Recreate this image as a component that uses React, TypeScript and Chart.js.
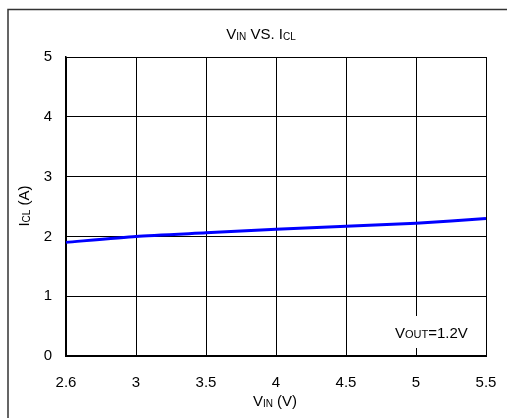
import React, { useEffect, useRef } from "react";
import { Chart, registerables } from "chart.js";

Chart.register(...registerables);

const xLabels = ["2.6", "3", "3.5", "4", "4.5", "5", "5.5"];
const iclValues = [1.9, 2.0, 2.06, 2.12, 2.17, 2.22, 2.3];
const yMin = 0;
const yMax = 5;

const FONT = "'Liberation Sans', Arial, sans-serif";

type Part = [string, number, number];

function partsWidth(ctx: CanvasRenderingContext2D, parts: Part[]) {
  let w = 0;
  for (const [t, s] of parts) {
    ctx.font = `${s}px ${FONT}`;
    w += ctx.measureText(t).width;
  }
  return w;
}

function drawParts(
  ctx: CanvasRenderingContext2D,
  parts: Part[],
  x: number,
  y: number,
  align: "left" | "center"
) {
  const w = partsWidth(ctx, parts);
  let cx = align === "center" ? x - w / 2 : x;
  ctx.textAlign = "left";
  ctx.textBaseline = "alphabetic";
  ctx.fillStyle = "#000";
  for (const [t, s, dy] of parts) {
    ctx.font = `${s}px ${FONT}`;
    ctx.fillText(t, cx, y + dy);
    cx += ctx.measureText(t).width;
  }
}

const decorPlugin = {
  id: "decor",
  afterDraw(chart: any) {
    const ctx = chart.ctx as CanvasRenderingContext2D;
    ctx.save();
    // outer frame
    ctx.strokeStyle = "#333";
    ctx.lineWidth = 1.5;
    ctx.beginPath();
    ctx.moveTo(8, 420);
    ctx.lineTo(8, 9.5);
    ctx.lineTo(510, 9.5);
    ctx.stroke();
    // title
    drawParts(ctx, [["V", 15, 0], ["IN", 10, 1], [" VS. I", 15, 0], ["CL", 10, 1]], 261, 39, "center");
    // x axis title
    drawParts(ctx, [["V", 15, 0], ["IN", 10, 1], [" (V)", 15, 0]], 275, 406, "center");
    // y axis title
    ctx.save();
    ctx.translate(29, 206);
    ctx.rotate(-Math.PI / 2);
    drawParts(ctx, [["I", 15, 0], ["CL", 10, 1], [" (A)", 15, 0]], 0, 0, "center");
    ctx.restore();
    // annotation
    const area = chart.chartArea;
    ctx.fillStyle = "#fff";
    ctx.fillRect(390, 316, 80, area.bottom - 8 - 316);
    drawParts(ctx, [["V", 15, 0], ["OUT", 11, 0], ["=1.2V", 15, 0]], 395, 338, "left");
    ctx.restore();
  },
};

export default function App() {
  const ref = useRef<HTMLCanvasElement>(null);
  useEffect(() => {
    if (!ref.current) return;
    const chart = new Chart(ref.current, {
      type: "line",
      data: {
        labels: xLabels,
        datasets: [
          {
            data: iclValues,
            borderColor: "#0000ff",
            borderWidth: 3,
            pointRadius: 0,
            tension: 0.2,
            fill: false,
          },
        ],
      },
      options: {
        responsive: false,
        animation: false,
        devicePixelRatio: 1,
        layout: { padding: { left: 0, right: 21, top: 57, bottom: 0 } },
        plugins: { legend: { display: false }, title: { display: false }, tooltip: { enabled: false } },
        scales: {
          x: {
            type: "category",
            offset: false,
            grid: { color: "#000", lineWidth: 1, drawTicks: false },
            border: { color: "#000", width: 2 },
            ticks: { color: "#000", font: { family: FONT, size: 15 }, padding: 18, maxRotation: 0, autoSkip: false },
            afterFit: (s: any) => {
              s.height = 62;
              s.paddingLeft = 0;
              s.paddingRight = 0;
            },
          },
          y: {
            type: "linear",
            min: yMin,
            max: yMax,
            grid: { color: "#000", lineWidth: 1, drawTicks: false },
            border: { color: "#000", width: 1.5 },
            ticks: { stepSize: 1, color: "#000", font: { family: FONT, size: 15 }, padding: 14 },
            afterFit: (s: any) => {
              s.width = 66;
              s.paddingTop = 0;
              s.paddingBottom = 0;
            },
          },
        },
      },
      plugins: [decorPlugin],
    });
    return () => chart.destroy();
  }, []);
  return (
    <div style={{ position: "fixed", left: 0, top: 0, width: 507, height: 418, background: "#fff" }}>
      <canvas ref={ref} width={507} height={418} style={{ display: "block" }} />
    </div>
  );
}
